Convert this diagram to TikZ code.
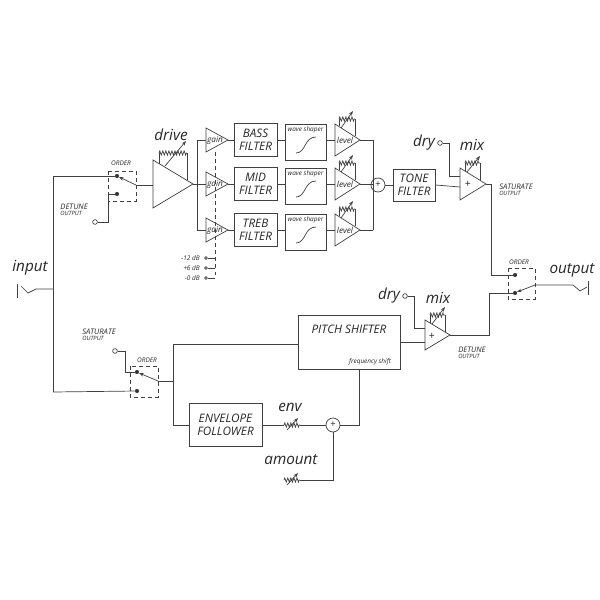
\documentclass[tikz,border=0pt]{standalone}
\usepackage{fontspec}
\setmainfont{Open Sans}
\usetikzlibrary{arrows.meta,decorations.pathmorphing}
\begin{document}
\begin{tikzpicture}[x=0.03cm,y=-0.03cm,line width=0.6pt,draw=black!75,
  every node/.style={font=\itshape,text=black!85},
  box/.style={draw,rectangle,inner sep=0},
  lbl/.style={font=\itshape\fontsize{10}{11}\selectfont,align=center},
  big/.style={font=\itshape\fontsize{13}{14}\selectfont},
  tiny/.style={font=\itshape\fontsize{5.5}{6}\selectfont},
  sml/.style={font=\itshape\fontsize{6.5}{7}\selectfont,align=left},
  zz/.style={decorate,decoration={zigzag,segment length=2.6pt,amplitude=1.8pt}},
  dot/.style={circle,fill=black!80,inner sep=0,minimum size=3.5pt},
  term/.style={circle,draw,inner sep=0,minimum size=4pt},
  sum/.style={circle,draw,inner sep=0,minimum size=14*0.03cm},
  sel/.style={draw,dashed,line width=0.5pt},
  arr/.style={-{Stealth[length=4pt,width=3pt]}},
  pot/.pic={\draw[zz] (-8,0)--(8,0); \draw[arr] (-5,5)--(6,-7);}]
\useasboundingbox (0,0) rectangle (600,600);

% input
\coordinate (inb) at (17,291);
\draw (17,284)--(17,298);
\draw (21,286)--(28,293)--(36,289)--(53,289);
\node[big] at (30,268) {input};
\draw (53,176)--(53,392);
% top order switch
\draw[sel] (108,171) rectangle (136,201);
\node[tiny] at (121,163) {ORDER};
\node[dot] (c1) at (117,176) {};
\node[dot] (c2) at (117,194) {};
\draw (53,176)--(c1);
\node[term] (det) at (95,222) {};
\node[sml,anchor=south east] at (92,220) {DETUNE\\[-2pt]{\fontsize{5}{5}\selectfont OUTPUT}};
\draw (det)--(108,222)--(108,194)--(c2);
\draw[arr] (136,185)--(119,177);
\draw (136,185)--(153,185);
% drive
\draw (153,160)--(193,184)--(153,208)--cycle;
\draw (159,164)--(159,153); \draw[zz] (159,153)--(187,153); \draw (187,153)--(187,180);
\draw[arr] (165,166)--(186,141);
\node[big] at (171,135) {drive};
\draw (193,184)--(206,184);
\draw (197,140)--(197,230);
% bands
\foreach \y/\n/\t in {140/b/BASS,184/m/MID,230/t/TREB}{
  \draw (197,\y)--(206,\y);
  \draw (206,\y-12)--(228,\y)--(206,\y+12)--cycle;
  \node[tiny,font=\itshape\fontsize{7}{7}\selectfont] at (215,\y) {gain};
  \node[box,minimum width=43*0.03cm,minimum height=33*0.03cm,lbl] (f\n) at (255.5,\y) {\t\\FILTER};
  \draw (228,\y)--(f\n.west);
  \node[box,minimum width=41*0.03cm,minimum height=36*0.03cm] (w\n) at (305.5,\y+2) {};
  \node[tiny,font=\itshape\fontsize{5.5}{6}\selectfont] at (305.5,\y-10) {wave shaper};
  \draw (296,\y+13) .. controls (306,\y+13) and (304,\y-3) .. (316,\y-3);
  \draw (f\n.east)--(285,\y);
  \draw (326,\y)--(335,\y);
  \draw (335,\y-16)--(360,\y)--(335,\y+16)--cycle;
  \node[tiny,font=\itshape\fontsize{7}{7}\selectfont] at (345,\y) {level};
  \draw (339,\y-14)--(339,\y-21); \draw[zz] (339,\y-21)--(355,\y-21); \draw (355,\y-21)--(355,\y-4);
  \draw[arr] (341,\y-12)--(353,\y-29);
  \draw (360,\y)--(373,\y);
}
\draw[dashed,line width=0.4pt] (215,152)--(215,278);
\foreach \y/\t in {258/-12,268/+6,278/-0}{
  \node[term,minimum size=2.5pt] (g\y) at (206,\y) {};
  \draw[line width=0.4pt] (g\y)--(215,\y);
  \node[tiny,anchor=east] at (204,\y) {\t\ dB};
}
\draw (373,140)--(373,230);
\node[sum] (s1) at (378,185) {};
\node[font=\fontsize{8}{8}\selectfont] at (378,185) {+};
\node[box,minimum width=42*0.03cm,minimum height=32*0.03cm,lbl] (tone) at (414,185) {TONE\\FILTER};
\draw (s1)--(tone);
% mix top
\draw (460,168)--(486,184)--(460,200)--cycle;
\node[font=\fontsize{9}{9}\selectfont] at (468,184) {+};
\draw (tone.east)--(460,187);
\node[term] (dry1) at (440,143) {};
\node[big] at (424,143) {dry};
\draw (dry1)--(449,143)--(449,176)--(460,176);
\draw (465,171)--(465,163); \draw[zz] (465,163)--(480,163); \draw (480,163)--(480,180);
\draw[arr] (467,172)--(480,156);
\node[big] at (472,145) {mix};
\node[sml,anchor=north west] at (495,180) {SATURATE\\[-2pt]{\fontsize{5}{5}\selectfont OUTPUT}};
% output switch
\draw[sel] (508,268) rectangle (535,299);
\node[tiny] at (519,262) {ORDER};
\node[dot] (o1) at (515,275) {};
\node[dot] (o2) at (515,293) {};
\draw (486,184)--(491,184)--(491,275)--(o1);
\draw[arr] (535,285)--(517,292);
\draw (535,285)--(573,285)--(580,291)--(587,287);
\draw (588,281)--(588,295);
\node[big] at (572,270) {output};
% detune
\node[box,minimum width=102*0.03cm,minimum height=54*0.03cm] (ps) at (349,342) {};
\node[lbl] at (349,329) {PITCH SHIFTER};
\node[tiny] at (370,362) {frequency shift};
\draw (425,320)--(450,335)--(425,350)--cycle;
\node[font=\fontsize{9}{9}\selectfont] at (432,336) {+};
\draw (400,342)--(425,342);
\node[term] (dry2) at (405,296) {};
\node[big] at (389,296) {dry};
\draw (dry2)--(414,296)--(414,328)--(425,328);
\draw (430,323)--(430,315); \draw[zz] (430,315)--(445,315); \draw (445,315)--(445,332);
\draw[arr] (432,324)--(445,307);
\node[big] at (438,298) {mix};
\draw (450,335)--(489,335)--(489,293)--(o2);
\node[sml,anchor=north west] at (454,343) {DETUNE\\[-2pt]{\fontsize{5}{5}\selectfont OUTPUT}};
% lower switch
\draw[sel] (130,366) rectangle (158,397);
\node[tiny] at (147,360) {ORDER};
\node[dot] (l1) at (137,372) {};
\node[dot] (l2) at (137,391) {};
\node[term] (sat) at (115,351) {};
\node[sml,anchor=south east] at (120,345) {SATURATE\\[-2pt]{\fontsize{5}{5}\selectfont OUTPUT}\hspace*{8pt}};
\draw (sat)--(125,351)--(125,372)--(l1);
\draw (53,392)--(l2);
\draw[arr] (158,381)--(139,373);
\draw (158,381)--(173,381);
\draw (173,344)--(173,425);
\draw (173,344)--(298,344);
\node[box,minimum width=73*0.03cm,minimum height=43*0.03cm,lbl] (env) at (225.5,425) {ENVELOPE\\FOLLOWER};
\draw (173,425)--(env.west);
\pic at (292,425) {pot};
\node[big] at (290,407) {env};
\draw (env.east)--(284,425); \draw (300,425)--(326,425);
\node[sum] (s2) at (333,425) {};
\node[font=\fontsize{8}{8}\selectfont] at (333,425) {+};
\draw (s2)--(359,425)--(359,369);
\pic at (292,480) {pot};
\node[big] at (291,460) {amount};
\draw (300,480)--(333,480)--(s2);
\end{tikzpicture}
\end{document}
